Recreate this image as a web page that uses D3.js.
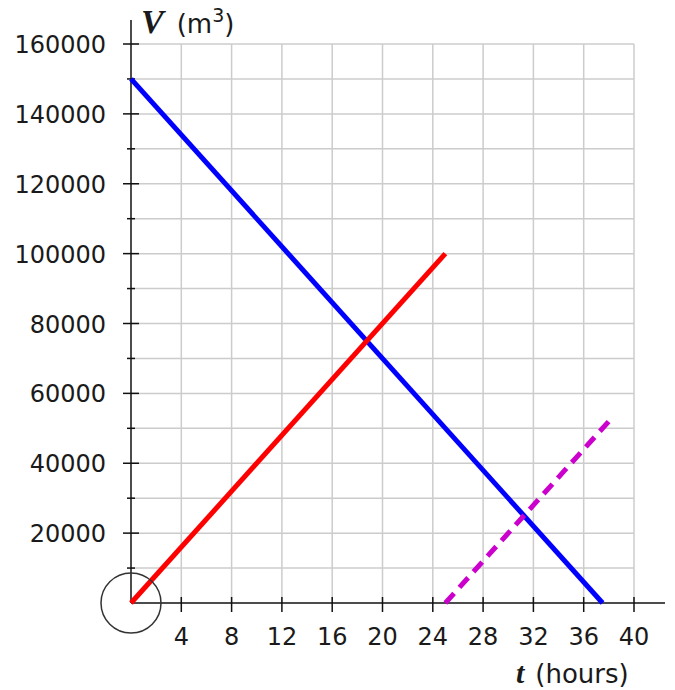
<!DOCTYPE html>
<html>
<head>
<meta charset="utf-8">
<script src="https://cdn.jsdelivr.net/npm/d3@7"></script>
<style>
  body { margin: 0; background: #fff; }
  svg { display: block; }
  .lbl { font-family: "DejaVu Sans", Verdana, sans-serif; font-size: 24px; fill: #1a1a1a; }
</style>
</head>
<body>
<svg id="chart" width="675" height="690"></svg>
<script>
// data
const xTicks = [4, 8, 12, 16, 20, 24, 28, 32, 36, 40];
const yGrid = [10000, 20000, 30000, 40000, 50000, 60000, 70000, 80000, 90000, 100000, 110000, 120000, 130000, 140000, 150000, 160000];
const yLabels = [20000, 40000, 60000, 80000, 100000, 120000, 140000, 160000];
const blueLine = [[0, 150000], [37.5, 0]];
const redLine = [[0, 0], [25, 100000]];
const purpleLine = [[25, 0], [38, 52000]];

const svg = d3.select("#chart");

const x = d3.scaleLinear().domain([0, 40]).range([131, 634]);
const y = d3.scaleLinear().domain([0, 160000]).range([603, 44]);

// grid
svg.append("g").selectAll("line")
    .data(xTicks)
    .enter().append("line")
    .attr("x1", d => x(d)).attr("x2", d => x(d))
    .attr("y1", y(0)).attr("y2", y(160000))
    .attr("stroke", "#cccccc").attr("stroke-width", 1.5);

svg.append("g").selectAll("line")
    .data(yGrid)
    .enter().append("line")
    .attr("x1", x(0)).attr("x2", x(40))
    .attr("y1", d => y(d)).attr("y2", d => y(d))
    .attr("stroke", "#cccccc").attr("stroke-width", 1.5);

// axes
svg.append("line")
    .attr("x1", x(0)).attr("x2", 665)
    .attr("y1", y(0)).attr("y2", y(0))
    .attr("stroke", "#111").attr("stroke-width", 1.5);
svg.append("line")
    .attr("x1", x(0)).attr("x2", x(0))
    .attr("y1", y(0)).attr("y2", 20)
    .attr("stroke", "#111").attr("stroke-width", 1.5);

// x ticks
svg.append("g").selectAll("line")
    .data(xTicks)
    .enter().append("line")
    .attr("x1", d => x(d)).attr("x2", d => x(d))
    .attr("y1", y(0) - 6).attr("y2", y(0) + 9)
    .attr("stroke", "#111").attr("stroke-width", 1.5);

// y ticks, long on the labelled ones
svg.append("g").selectAll("line")
    .data(yGrid)
    .enter().append("line")
    .attr("x1", d => yLabels.includes(d) ? x(0) - 8 : x(0) - 4)
    .attr("x2", d => yLabels.includes(d) ? x(0) + 8 : x(0) + 4)
    .attr("y1", d => y(d)).attr("y2", d => y(d))
    .attr("stroke", "#111").attr("stroke-width", 1.5);

// tick labels
svg.append("g").selectAll("text")
    .data(xTicks)
    .enter().append("text")
    .attr("class", "lbl")
    .attr("x", d => x(d))
    .attr("y", y(0) + 42)
    .attr("text-anchor", "middle")
    .text(d => d);

svg.append("g").selectAll("text")
    .data(yLabels)
    .enter().append("text")
    .attr("class", "lbl")
    .attr("x", 106)
    .attr("y", d => y(d) + 9)
    .attr("text-anchor", "end")
    .text(d => d);

// lines
const line = d3.line().x(d => x(d[0])).y(d => y(d[1]));

svg.append("path").datum(blueLine)
    .attr("d", line)
    .attr("fill", "none").attr("stroke", "#0000ff").attr("stroke-width", 5);

svg.append("path").datum(redLine)
    .attr("d", line)
    .attr("fill", "none").attr("stroke", "#ff0000").attr("stroke-width", 5);

svg.append("path").datum(purpleLine)
    .attr("d", line)
    .attr("fill", "none").attr("stroke", "#cc00cc").attr("stroke-width", 5)
    .attr("stroke-dasharray", "13,8");

// circle round the origin
svg.append("circle")
    .attr("cx", x(0)).attr("cy", y(0)).attr("r", 30)
    .attr("fill", "none").attr("stroke", "#333").attr("stroke-width", 1.5);

// axis titles
const vTitle = svg.append("text").attr("x", 141).attr("y", 33).attr("class", "lbl");
vTitle.append("tspan")
    .style("font-family", "'Liberation Serif', 'Times New Roman', serif")
    .style("font-style", "italic").style("font-weight", "bold")
    .style("font-size", "34px")
    .text("V");
vTitle.append("tspan").attr("dx", 13).style("font-size", "26px").text("(m");
vTitle.append("tspan").attr("dy", -11).style("font-size", "19px").text("3");
vTitle.append("tspan").attr("dy", 11).style("font-size", "26px").text(")");

const tTitle = svg.append("text").attr("x", 516).attr("y", 683).attr("class", "lbl");
tTitle.append("tspan")
    .style("font-family", "'Liberation Serif', 'Times New Roman', serif")
    .style("font-style", "italic").style("font-weight", "bold")
    .style("font-size", "30px")
    .text("t");
tTitle.append("tspan").attr("dx", 11).style("font-size", "26px").text("(hours)");
</script>
</body>
</html>
